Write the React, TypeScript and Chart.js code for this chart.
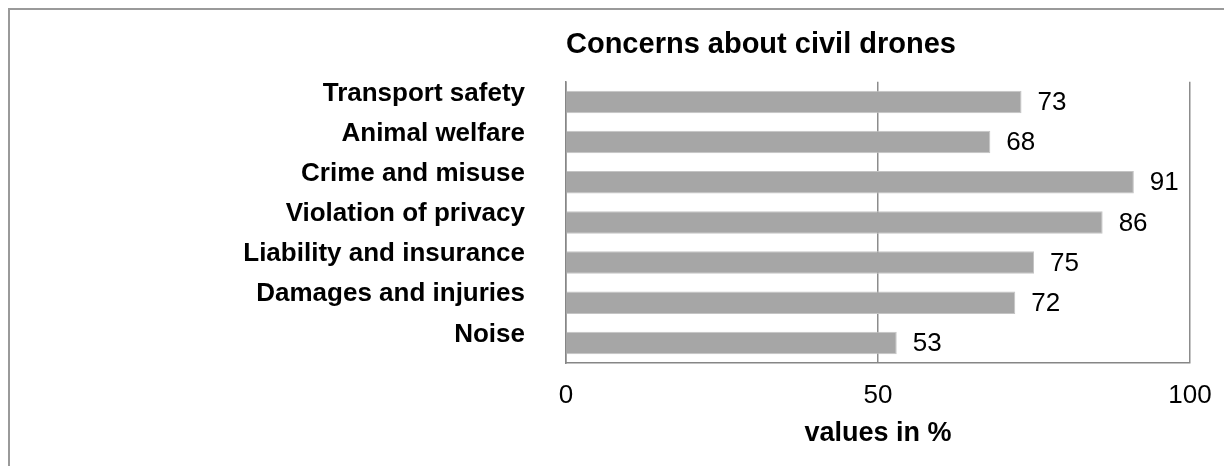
import React, { useEffect, useRef } from "react";
import { Chart, registerables } from "chart.js";

Chart.register(...registerables);

const chartTitle = "Concerns about civil drones";
const categories = [
  "Transport safety",
  "Animal welfare",
  "Crime and misuse",
  "Violation of privacy",
  "Liability and insurance",
  "Damages and injuries",
  "Noise",
];
const values = [73, 68, 91, 86, 75, 72, 53];
const xMin = 0;
const xMax = 100;
const xStep = 50;
const xAxisTitle = "values in %";

const FONT = '"Liberation Sans", Arial, Helvetica, sans-serif';

const dataLabels = {
  id: "dataLabels",
  afterDatasetsDraw(chart: any) {
    const ctx = chart.ctx;
    const meta = chart.getDatasetMeta(0);
    ctx.save();
    ctx.font = `26px ${FONT}`;
    ctx.fillStyle = "#000000";
    ctx.textAlign = "left";
    ctx.textBaseline = "middle";
    meta.data.forEach((bar: any, i: number) => {
      ctx.fillText(String(values[i]), bar.x + 16, bar.y + 1);
    });
    ctx.restore();
  },
};

export default function App() {
  const canvasRef = useRef<HTMLCanvasElement | null>(null);

  useEffect(() => {
    if (!canvasRef.current) return;
    const chart = new Chart(canvasRef.current, {
      type: "bar",
      data: {
        labels: categories,
        datasets: [
          {
            data: values,
            backgroundColor: "#a6a6a6",
            borderColor: "#c4c4c4",
            borderWidth: 1,
            barPercentage: 0.56,
            categoryPercentage: 1,
          },
        ],
      },
      options: {
        indexAxis: "y",
        animation: false,
        responsive: false,
        maintainAspectRatio: false,
        layout: { padding: { top: 0, right: 26, bottom: 0, left: 0 } },
        plugins: {
          legend: { display: false },
          tooltip: { enabled: false },
          title: {
            display: true,
            text: chartTitle,
            fullSize: false,
            align: "start",
            color: "#000000",
            font: { family: FONT, size: 29, weight: "bold" },
            padding: { top: 18, bottom: 19 },
          },
        },
        scales: {
          x: {
            type: "linear",
            min: xMin,
            max: xMax,
            ticks: {
              stepSize: xStep,
              color: "#000000",
              font: { family: FONT, size: 26 },
              padding: 17,
            },
            grid: {
              display: true,
              color: "#8c8c8c",
              lineWidth: 1.5,
              drawTicks: false,
            },
            border: { display: true, color: "#868686", width: 1.5 },
            title: {
              display: true,
              text: xAxisTitle,
              color: "#000000",
              font: { family: FONT, size: 27, weight: "bold" },
              padding: { top: 0, bottom: 8 },
            },
            afterFit(scale: any) {
              scale.height = 95;
              scale.paddingLeft = 0;
              scale.paddingRight = 0;
            },
          },
          y: {
            type: "category",
            ticks: {
              color: "#000000",
              font: { family: FONT, size: 26, weight: "bold" },
              padding: 41,
              labelOffset: -8.5,
            },
            grid: { display: false, drawTicks: false },
            border: { display: true, color: "#868686", width: 1.5 },
            afterFit(scale: any) {
              scale.width = 556;
              scale.paddingTop = 0;
              scale.paddingBottom = 0;
            },
          },
        },
      },
      plugins: [dataLabels],
    });
    return () => chart.destroy();
  }, []);

  return (
    <div
      style={{
        position: "fixed",
        left: 8,
        top: 8,
        width: 1240,
        height: 480,
        borderLeft: "2px solid #9a9a9a",
        borderTop: "2px solid #9a9a9a",
        background: "#ffffff",
      }}
    >
      <canvas
        ref={canvasRef}
        width={1206}
        height={448}
        style={{ display: "block", width: 1206, height: 448 }}
      />
    </div>
  );
}
